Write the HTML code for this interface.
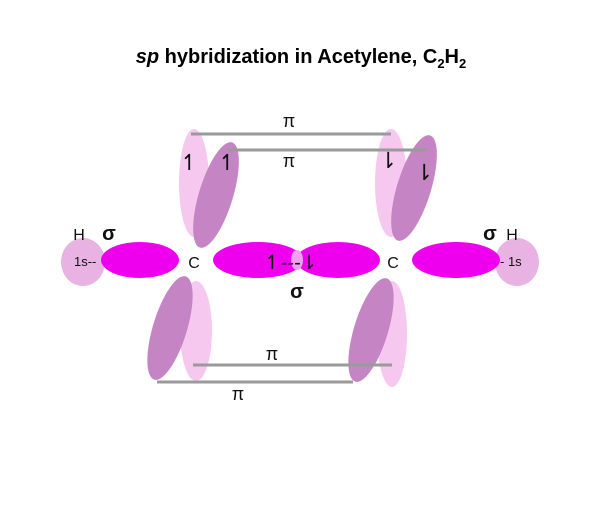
<!DOCTYPE html>
<html><head><meta charset="utf-8"><style>
html,body{margin:0;padding:0;background:#fff;}
svg{display:block;}
text{font-family:"Liberation Sans",sans-serif;}
</style></head><body>
<svg width="602" height="532" viewBox="0 0 602 532">
<text x="301" y="63" text-anchor="middle" font-size="20" font-weight="bold" fill="#000"><tspan font-style="italic">sp</tspan> hybridization in Acetylene, C<tspan font-size="13" dy="5">2</tspan><tspan dy="-5">H</tspan><tspan font-size="13" dy="5">2</tspan></text>

<ellipse cx="194" cy="183" rx="15" ry="54" fill="#f6c8f0"/>
<ellipse cx="216" cy="195" rx="17" ry="55" fill="#c585c4" transform="rotate(17 216 195)"/>
<ellipse cx="391" cy="183" rx="16" ry="54" fill="#f6c8f0"/>
<ellipse cx="414" cy="188" rx="17" ry="55" fill="#c585c4" transform="rotate(17 414 188)"/>
<ellipse cx="196" cy="331" rx="16" ry="50" fill="#f6c8f0"/>
<ellipse cx="170" cy="328" rx="17" ry="54" fill="#c585c4" transform="rotate(17 170 328)"/>
<ellipse cx="392" cy="334" rx="15" ry="53" fill="#f6c8f0"/>
<ellipse cx="371" cy="330" rx="17" ry="54" fill="#c585c4" transform="rotate(17 371 330)"/>

<g stroke="#9a9a9a" stroke-width="3">
<line x1="191" y1="134" x2="391" y2="134"/>
<line x1="228" y1="150" x2="427" y2="150"/>
<line x1="193" y1="365" x2="392" y2="365"/>
<line x1="157" y1="382" x2="353" y2="382"/>
</g>

<ellipse cx="83" cy="262" rx="22" ry="24" fill="#e8b2e2"/>
<ellipse cx="517" cy="262" rx="22" ry="24" fill="#e8b2e2"/>
<ellipse cx="140" cy="260" rx="39" ry="18" fill="#ee00ee"/>
<ellipse cx="258" cy="260" rx="45" ry="18" fill="#ee00ee"/>
<ellipse cx="338" cy="260" rx="42" ry="18" fill="#ee00ee"/>
<ellipse cx="297" cy="260" rx="6" ry="10" fill="#f0a0f0"/>
<ellipse cx="456" cy="260" rx="44" ry="18" fill="#ee00ee"/>

<g fill="#111" font-size="16">
<text x="194" y="268" text-anchor="middle">C</text>
<text x="393" y="268" text-anchor="middle">C</text>
<text x="79" y="240" text-anchor="middle">H</text>
<text x="512" y="240" text-anchor="middle">H</text>
<text x="74" y="266" font-size="13">1s--</text>
<text x="500" y="266" font-size="13">- 1s</text>
<text x="264" y="269" font-size="20">↿---⇂</text>
</g>
<g fill="#111" font-size="20" font-weight="bold" font-family="Liberation Serif" text-anchor="middle">
<text x="297" y="298">σ</text>
<text x="109" y="240">σ</text>
<text x="490" y="240">σ</text>
</g>
<g fill="#111" font-size="18" font-family="Liberation Serif" text-anchor="middle">
<text x="289" y="127">π</text>
<text x="289" y="167">π</text>
<text x="272" y="360">π</text>
<text x="238" y="400">π</text>
</g>
<g fill="#111" font-size="22">
<text x="180" y="170">↿</text>
<text x="218" y="170">↿</text>
<text x="379" y="168">⇂</text>
<text x="415" y="180">⇂</text>
</g>
</svg>
</body></html>
